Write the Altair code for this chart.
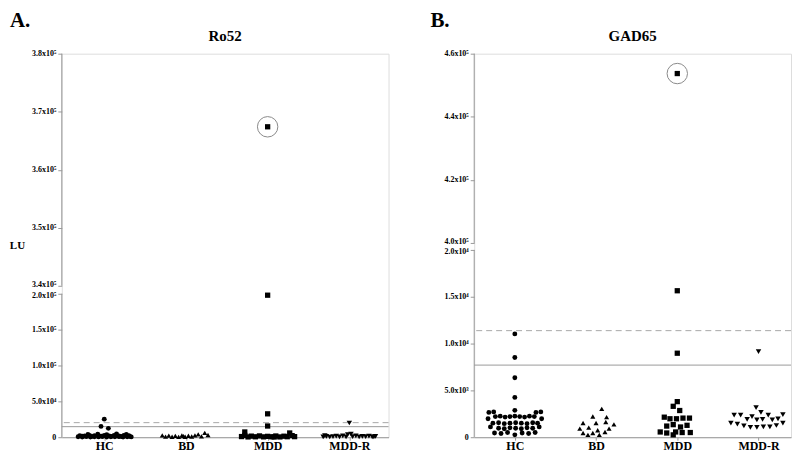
import altair as alt
import pandas as pd

SERIF = "Liberation Serif"
GROUPS = ["HC", "BD", "MDD", "MDD-R"]
SHAPES = ["circle", "triangle-up", "square", "triangle-down"]
SIZES = [24, 30, 30, 30]

# ---------------- Panel A : Ro52 (LU) ----------------
A_HC_VAL = [25200, 15100, 12400,
            600, 300, 800, 200, 700, 400, 900, 300, 600, 500, 800, 200, 700, 400,
            2200, 1800, 2600, 2000, 1600, 2400, 1900, 2300, 1700, 2500, 2100,
            1300, 1100, 1400, 1200, 1000, 1300,
            3800, 4200, 3600, 4400, 3900]
A_HC_OFF = [0.0, -0.04, 0.05,
            -0.32, -0.27, -0.22, -0.17, -0.12, -0.07, -0.02, 0.03, 0.08, 0.13, 0.18, 0.23, 0.28, 0.33,
            -0.30, -0.24, -0.18, -0.12, -0.06, 0.0, 0.06, 0.12, 0.18, 0.24, 0.30,
            -0.27, -0.15, -0.03, 0.09, 0.21, 0.31,
            -0.20, -0.08, 0.03, 0.15, 0.27]
A_BD_VAL = [6000, 4000, 2500, 800, 2200, 600, 1800, 500, 2400, 700, 2000, 900, 2600, 1200, 3000, 1500]
A_BD_OFF = [0.23, 0.15, -0.29, -0.25, -0.21, -0.17, -0.13, -0.09, -0.05, -0.01, 0.03, 0.07, 0.11, 0.19, 0.27, -0.03]
A_MDD_VAL = [367400, 198000, 32600, 15600, 7300, 5900,
             900, 400, 1500, 600, 1800, 500, 1200, 600, 1700, 400, 1400, 700, 2200, 800, 2500, 300]
A_MDD_OFF = [0.0, 0.0, 0.0, 0.0, -0.28, 0.27,
             -0.32, -0.24, -0.20, -0.15, -0.10, -0.05, 0.0, 0.05, 0.10, 0.15, 0.20, 0.24, 0.30, 0.33, -0.28, 0.08]
A_MDDR_VAL = [19800, 500, 1200, 300, 900, 1500, 600, 2000, 400, 3500, 4200, 800, 1800, 500, 1300, 700,
              1600, 400, 1100, 600, 2200]
A_MDDR_OFF = [0.0, -0.32, -0.28, -0.24, -0.20, -0.16, -0.12, -0.08, -0.04, -0.02, 0.02, 0.04, 0.08, 0.12,
              0.16, 0.20, 0.24, 0.28, 0.32, 0.30, -0.30]
A_CUTOFFS = [20300, 14700]          # dashed, solid
A_CIRCLED = ("MDD", 367400, 0.0)
A_YTICKS = [0, 50000, 100000, 150000, 200000, 340000, 350000, 360000, 370000, 380000]
A_YLABELS = ["0", "5.0x10⁴", "1.0x10⁵", "1.5x10⁵", "2.0x10⁵",
             "3.4x10⁵", "3.5x10⁵", "3.6x10⁵", "3.7x10⁵", "3.8x10⁵"]
A_SEGMENTS = [(0, 200000), (340000, 380000)]

# ---------------- Panel B : GAD65 ----------------
B_HC_VAL = [11030, 8510, 6350, 4250, 2870,
            2650, 2700, 2650, 2700,
            2200, 2250, 2150, 2200, 2250, 2200, 2150, 2250, 2200,
            1970, 1970,
            1500, 1550, 1450, 1500, 1550, 1500, 1450, 1550, 1500,
            1100, 1100,
            950, 900, 1000, 950, 900, 1000, 950,
            450, 400, 500, 450, 400, 500,
            250]
B_HC_OFF = [0.0, 0.0, 0.0, 0.0, 0.0,
            -0.32, -0.26, 0.26, 0.32,
            -0.24, -0.18, -0.12, -0.06, 0.0, 0.06, 0.12, 0.18, 0.24,
            -0.33, 0.33,
            -0.27, -0.20, -0.13, -0.06, 0.01, 0.08, 0.15, 0.22, 0.28,
            -0.30, 0.30,
            -0.20, -0.13, -0.06, 0.01, 0.08, 0.15, 0.22,
            -0.25, -0.17, -0.09, 0.09, 0.17, 0.25,
            0.0]
B_BD_VAL = [3030, 2210, 2140, 1510, 1510, 1620, 1370, 920, 1020, 740, 920, 450, 450, 560, 250, 250]
B_BD_OFF = [0.07, -0.04, 0.13, -0.16, 0.0, 0.12, 0.22, -0.20, -0.09, 0.02, 0.16, -0.16, -0.04, 0.11, -0.10, 0.04]
B_MDD_VAL = [453700, 15640, 8970, 3800, 3300, 2850, 2140, 1970, 1970, 2040, 2040,
             1340, 1190, 1090, 1270, 560, 450, 560, 500, 500, 250]
B_MDD_OFF = [0.0, 0.0, 0.0, 0.0, -0.05, 0.03, -0.16, -0.09, -0.01, 0.07, 0.15,
             -0.05, -0.13, 0.04, 0.12, -0.21, -0.13, -0.02, 0.06, 0.16, -0.05]
B_MDDR_VAL = [9150, 3150, 2650, 2350, 2350, 2200, 2350, 2400, 1900, 1850, 1900, 1850, 1950,
              1500, 1400, 1200, 1050, 1050, 1100, 1100, 1250, 1500]
B_MDDR_OFF = [0.0, -0.03, 0.03, -0.30, -0.22, -0.08, 0.12, 0.30, -0.14, -0.02, 0.05, 0.17, 0.24,
              -0.34, -0.26, -0.18, -0.10, -0.02, 0.06, 0.14, 0.22, 0.30]
B_CUTOFFS = [11380, 7700]
B_CIRCLED = ("MDD", 453700, 0.0)
B_YTICKS = [0, 5000, 10000, 15000, 20000, 400000, 420000, 440000, 460000]
B_YLABELS = ["0", "5.0x10³", "1.0x10⁴", "1.5x10⁴", "2.0x10⁴",
             "4.0x10⁵", "4.2x10⁵", "4.4x10⁵", "4.6x10⁵"]
B_SEGMENTS = [(0, 20000), (400000, 460000)]

GRAY = "#9a9a9a"
PLOT_H = 385


def points_frame(vals, offs):
    rows = []
    for g, v_list, o_list in zip(GROUPS, vals, offs):
        i = GROUPS.index(g) + 1
        for v, o in zip(v_list, o_list):
            rows.append({"group": g, "pos": i + o, "v": v})
    return pd.DataFrame(rows)


def label_expr(ticks, labels):
    arr_t = "[" + ",".join(str(t) for t in ticks) + "]"
    arr_l = "[" + ",".join("'" + s + "'" for s in labels) + "]"
    return f"{arr_l}[indexof({arr_t}, datum.value)]"


def panel(letter, title, vals, offs, cutoffs, circled, yticks, ylabels, segments,
          ydomain, yrange, xdomain, width, ytitle, letter_x):
    df = points_frame(vals, offs)
    X = alt.X("pos:Q",
              scale=alt.Scale(domain=xdomain, nice=False, zero=False),
              axis=alt.Axis(values=[1, 2, 3, 4],
                            labelExpr=label_expr([1, 2, 3, 4], GROUPS),
                            title=None, grid=False, tickSize=3, labelPadding=0,
                            labelFont=SERIF, labelFontSize=12, labelFontWeight="bold",
                            labelColor="black", labelFlush=False,
                            domainColor=GRAY, tickColor=GRAY))
    lo_break, hi_break = segments[0][1], segments[1][0]
    yaxis_kw = dict(values=yticks, labelExpr=label_expr(yticks, ylabels), grid=False,
                    domain=False, tickSize=4, tickColor=GRAY, labelPadding=2,
                    labelFont=SERIF, labelFontSize=8, labelFontWeight="bold",
                    labelColor="black", labelOverlap=False, labelBound=False,
                    labelOffset={"condition": [
                        {"test": f"datum.value == {hi_break}", "value": -1.5},
                        {"test": f"datum.value == {lo_break}", "value": 1.5}],
                        "value": 0})
    if ytitle:
        yaxis_kw.update(title=ytitle, titleAngle=0, titleX=-45, titleY=193,
                        titleAlign="center", titleBaseline="middle", titleFont=SERIF,
                        titleFontSize=11, titleFontWeight="bold", titleColor="black")
    else:
        yaxis_kw.update(title=None)
    Y = alt.Y("v:Q", scale=alt.Scale(domain=ydomain, range=yrange, nice=False, zero=False),
              axis=alt.Axis(**yaxis_kw))

    seg_df = pd.DataFrame({"v": [s[0] for s in segments], "v2": [s[1] for s in segments]})
    axis_line = alt.Chart(seg_df).mark_rule(color=GRAY, strokeWidth=1).encode(
        x=alt.value(0), y=Y, y2="v2:Q")

    dashed = alt.Chart(pd.DataFrame({"v": [cutoffs[0]]})).mark_rule(
        color="#a8a8a8", strokeDash=[6, 4], strokeWidth=1).encode(y=Y)
    solid = alt.Chart(pd.DataFrame({"v": [cutoffs[1]]})).mark_rule(
        color="#9a9a9a", strokeWidth=1).encode(y=Y)

    pts = alt.Chart(df).mark_point(filled=True, color="black", opacity=1).encode(
        x=X, y=Y,
        shape=alt.Shape("group:N", scale=alt.Scale(domain=GROUPS, range=SHAPES), legend=None),
        size=alt.Size("group:N", scale=alt.Scale(domain=GROUPS, range=SIZES), legend=None),
    )

    cg, cv, co = circled
    circ_df = pd.DataFrame({"pos": [GROUPS.index(cg) + 1 + co], "v": [cv]})
    circ = alt.Chart(circ_df).mark_point(shape="circle", filled=False, color="#8a8a8a",
                                         strokeWidth=1, size=420, opacity=1).encode(x=X, y=Y)

    letter_txt = alt.Chart(pd.DataFrame({"t": [letter]})).mark_text(
        font=SERIF, fontSize=21, fontWeight="bold", align="left", baseline="top",
        color="black").encode(text="t:N", x=alt.value(letter_x), y=alt.value(-44))

    title_txt = alt.Chart(pd.DataFrame({"t": [title]})).mark_text(
        font=SERIF, fontSize=15, fontWeight="bold", align="center", baseline="middle",
        color="black").encode(text="t:N", x=alt.value(width / 2), y=alt.value(-18))

    return alt.layer(axis_line, dashed, solid, circ, pts, letter_txt, title_txt).properties(
        width=width, height=PLOT_H)


A = panel("A.", "Ro52",
          [A_HC_VAL, A_BD_VAL, A_MDD_VAL, A_MDDR_VAL],
          [A_HC_OFF, A_BD_OFF, A_MDD_OFF, A_MDDR_OFF],
          A_CUTOFFS, A_CIRCLED, A_YTICKS, A_YLABELS, A_SEGMENTS,
          [0, 200000, 340000, 380000], [PLOT_H, 241, 233, 0],
          [0.48, 4.48], 328, "LU", -52)

B = panel("B.", "GAD65",
          [B_HC_VAL, B_BD_VAL, B_MDD_VAL, B_MDDR_VAL],
          [B_HC_OFF, B_BD_OFF, B_MDD_OFF, B_MDDR_OFF],
          B_CUTOFFS, B_CIRCLED, B_YTICKS, B_YLABELS, B_SEGMENTS,
          [0, 20000, 400000, 460000], [PLOT_H, 197, 190, 0],
          [0.5, 4.4], 318, None, -44)

chart = alt.hconcat(A, B, spacing=40).properties(padding=0).configure_view(
    strokeWidth=0).configure(background="white")

chart.save("out.html", embed_options={"renderer": "svg", "actions": False})
